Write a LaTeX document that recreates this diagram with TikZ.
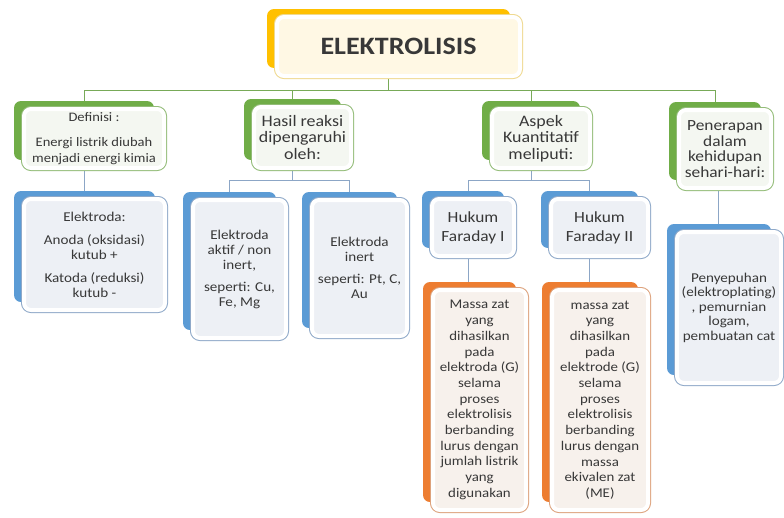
\documentclass[tikz,border=0pt]{standalone}
\usepackage{fontspec}
\setmainfont{Carlito}[FakeStretch=1.12]
\usetikzlibrary{shadows, backgrounds, calc}

\definecolor{ylwB}{HTML}{FFC000}
\definecolor{grnB}{HTML}{70AD47}
\definecolor{bluB}{HTML}{5B9BD5}
\definecolor{orgB}{HTML}{ED7D31}
\definecolor{ylwL}{HTML}{EFD98F}
\definecolor{grnL}{HTML}{93BC78}
\definecolor{bluL}{HTML}{8FA9C9}
\definecolor{orgL}{HTML}{DDA27C}
\definecolor{ylwF}{HTML}{FFF8E4}
\definecolor{grnF}{HTML}{F4F7F1}
\definecolor{bluF}{HTML}{EDF0F5}
\definecolor{orgF}{HTML}{F7F1EC}
\definecolor{txtC}{HTML}{383838}
\definecolor{lnG}{HTML}{78AA58}
\definecolor{lnB}{HTML}{8CA6C6}

\tikzset{
  box/.style 2 args={rounded corners=7pt,
    general shadow={fill=#1, shadow xshift=-10pt, shadow yshift=8pt},
    preaction={draw=#2, line width=6pt},
    draw=white, line width=4pt, align=center, text=txtC, inner sep=2pt},
  ttlbox/.style={box={ylwB}{ylwL}, fill=ylwF},
  grnbox/.style={box={grnB}{grnL}, fill=grnF},
  blubox/.style={box={bluB}{bluL}, fill=bluF},
  orgbox/.style={box={orgB}{orgL}, fill=orgF},
  edgeG/.style={draw=lnG, line width=1pt},
  edgeB/.style={draw=lnB, line width=1pt}
}

\begin{document}
\begin{tikzpicture}[x=1pt, y=-1pt]
  % top
  \node[ttlbox, minimum width=243pt, minimum height=59pt,
        font=\fontsize{25}{28}\selectfont\bfseries] (ttl) at (398.5,46.5) {ELEKTROLISIS};

  % level 1
  \node[grnbox, minimum width=140pt, minimum height=59pt,
        font=\fontsize{13}{16}\selectfont] (def) at (94,138.5)
        {Definisi :\\[9pt]Energi listrik diubah\\menjadi energi kimia};
  \node[grnbox, minimum width=97pt, minimum height=61pt,
        font=\fontsize{16}{16.5}\selectfont] (hsl) at (302.5,137.5)
        {Hasil reaksi\\dipengaruhi\\oleh:};
  \node[grnbox, minimum width=98pt, minimum height=59pt,
        font=\fontsize{16}{16.5}\selectfont] (asp) at (541,138.5)
        {Aspek\\Kuantitatif\\meliputi:};
  \node[grnbox, minimum width=92pt, minimum height=78pt,
        font=\fontsize{15.5}{15.5}\selectfont] (pen) at (725,149)
        {Penerapan\\dalam\\kehidupan\\sehari-hari:};

  % level 2
  \node[blubox, minimum width=141pt, minimum height=111pt,
        font=\fontsize{13.5}{15}\selectfont] (elk) at (94.5,254.5)
        {Elektroda:\\[8pt]Anoda (oksidasi)\\kutub +\\[8pt]Katoda (reduksi)\\kutub -};
  \node[blubox, minimum width=93pt, minimum height=138pt,
        font=\fontsize{13.5}{15}\selectfont] (akt) at (239.5,269)
        {Elektroda\\aktif / non\\inert,\\[7pt]seperti: Cu,\\Fe, Mg};
  \node[blubox, minimum width=95pt, minimum height=136pt,
        font=\fontsize{13.5}{15}\selectfont] (ine) at (359.5,268)
        {Elektroda\\inert\\[7pt]seperti: Pt, C,\\Au};
  \node[blubox, minimum width=82pt, minimum height=57pt,
        font=\fontsize{15.5}{19}\selectfont] (fa1) at (473,227.5)
        {Hukum\\Faraday I};
  \node[blubox, minimum width=97pt, minimum height=57pt,
        font=\fontsize{15.5}{19}\selectfont] (fa2) at (599.5,227.5)
        {Hukum\\Faraday II};
  \node[blubox, minimum width=104pt, minimum height=151pt,
        font=\fontsize{13.5}{14.5}\selectfont] (apl) at (729,307.5)
        {Penyepuhan\\(elektroplating)\\, pemurnian\\logam,\\pembuatan cat};

  % level 3
  \node[orgbox, minimum width=93pt, minimum height=220pt,
        font=\fontsize{13.3}{15.7}\selectfont] (ms1) at (479.5,400)
        {Massa zat\\yang\\dihasilkan\\pada\\elektroda (G)\\selama\\proses\\elektrolisis\\berbanding\\lurus dengan\\jumlah listrik\\yang\\digunakan};
  \node[orgbox, minimum width=96pt, minimum height=220pt,
        font=\fontsize{13.3}{15.7}\selectfont] (ms2) at (600,400)
        {massa zat\\yang\\dihasilkan\\pada\\elektrode (G)\\selama\\proses\\elektrolisis\\berbanding\\lurus dengan\\massa\\ekivalen zat\\(ME)};

  % connectors
  \begin{scope}[on background layer]
    \path[use as bounding box, fill=white] (0,0) rectangle (784,517);
    \foreach \c in {def,hsl,asp,pen}
      \draw[edgeG] ([xshift=-10pt]ttl.south) -- ++(0,12) -| ([xshift=-10pt]\c.north);
    \foreach \c in {akt,ine}
      \draw[edgeB] ([xshift=-10pt]hsl.south) -- ++(0,10) -| ([xshift=-10pt]\c.north);
    \draw[edgeB] ([xshift=-10pt]asp.south) -- ++(0,10) -| ([xshift=-5pt]fa1.north);
    \draw[edgeB] ([xshift=-10pt]asp.south) -- ++(0,10) -| ([xshift=-10pt]fa2.north);
    \draw[edgeB] ([xshift=-10pt]def.south) -- ([xshift=-10pt]def.south |- elk.north);
    \draw[edgeB] ([xshift=-5pt]fa1.south) -- ([xshift=-5pt]fa1.south |- ms1.north);
    \draw[edgeB] ([xshift=-10pt]fa2.south) -- ([xshift=-10pt]fa2.south |- ms2.north);
    \draw[edgeB] ([xshift=-7pt]pen.south) -- ([xshift=-7pt]pen.south |- apl.north);
  \end{scope}
\end{tikzpicture}
\end{document}
